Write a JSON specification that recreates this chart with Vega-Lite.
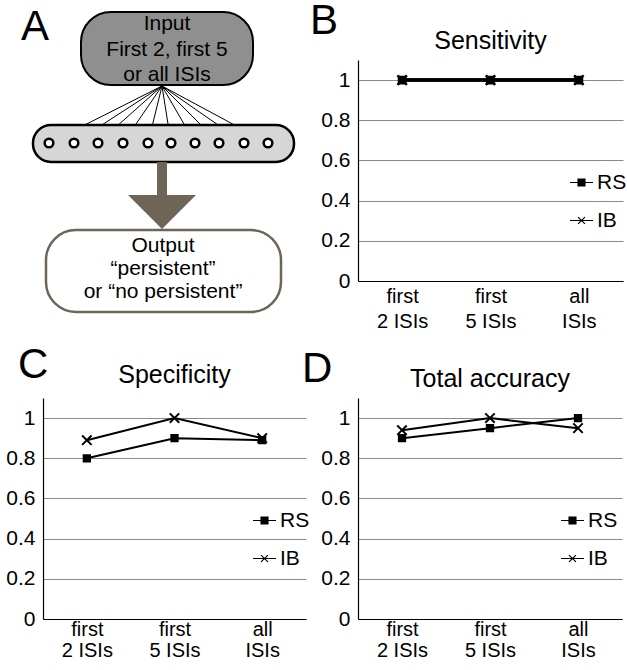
{
  "$schema": "https://vega.github.io/schema/vega-lite/v6.json",
  "background": "white",
  "padding": {"left": 5, "top": 0, "right": 0, "bottom": 0},
  "config": {
    "font": "Liberation Sans",
    "view": {"stroke": null},
    "title": {"font": "Liberation Sans", "fontWeight": "normal", "color": "black"},
    "axis": {"labelFont": "Liberation Sans", "labelColor": "black"},
    "legend": {"labelFont": "Liberation Sans", "labelColor": "black"}
  },
  "datasets": {
    "sens": [
      {"cond": "first 2 ISIs", "series": "RS", "value": 1},
      {"cond": "first 5 ISIs", "series": "RS", "value": 1},
      {"cond": "all ISIs", "series": "RS", "value": 1},
      {"cond": "first 2 ISIs", "series": "IB", "value": 1},
      {"cond": "first 5 ISIs", "series": "IB", "value": 1},
      {"cond": "all ISIs", "series": "IB", "value": 1}
    ],
    "spec": [
      {"cond": "first 2 ISIs", "series": "RS", "value": 0.8},
      {"cond": "first 5 ISIs", "series": "RS", "value": 0.9},
      {"cond": "all ISIs", "series": "RS", "value": 0.89},
      {"cond": "first 2 ISIs", "series": "IB", "value": 0.89},
      {"cond": "first 5 ISIs", "series": "IB", "value": 1},
      {"cond": "all ISIs", "series": "IB", "value": 0.9}
    ],
    "acc": [
      {"cond": "first 2 ISIs", "series": "RS", "value": 0.9},
      {"cond": "first 5 ISIs", "series": "RS", "value": 0.95},
      {"cond": "all ISIs", "series": "RS", "value": 1},
      {"cond": "first 2 ISIs", "series": "IB", "value": 0.94},
      {"cond": "first 5 ISIs", "series": "IB", "value": 1},
      {"cond": "all ISIs", "series": "IB", "value": 0.95}
    ]
  },
  "spacing": 13,
  "vconcat": [
    {
      "spacing": 4,
      "hconcat": [
        {
          "width": 263,
          "height": 221,
          "layer": [
            {
              "data": {"values": [{"x": 85, "x2": 257, "y": 15, "y2": 88}]},
              "mark": {"type": "rect", "fill": "#8f8f8f", "stroke": "black", "strokeWidth": 2, "cornerRadius": 30},
              "encoding": {
                "x": {"field": "x", "type": "quantitative", "scale": {"domain": [47, 310], "nice": false, "zero": false}, "axis": null},
                "x2": {"field": "x2"},
                "y": {"field": "y", "type": "quantitative", "scale": {"domain": [63, 284], "reverse": true, "nice": false, "zero": false}, "axis": null},
                "y2": {"field": "y2"}
              }
            },
            {
              "data": {"values": [
                {"x": 166, "y": 89, "x2": 53, "y2": 146},
                {"x": 166, "y": 89, "x2": 78, "y2": 146},
                {"x": 166, "y": 89, "x2": 102, "y2": 146},
                {"x": 166, "y": 89, "x2": 127, "y2": 146},
                {"x": 166, "y": 89, "x2": 152, "y2": 146},
                {"x": 166, "y": 89, "x2": 175, "y2": 146},
                {"x": 166, "y": 89, "x2": 199, "y2": 146},
                {"x": 166, "y": 89, "x2": 223, "y2": 146},
                {"x": 166, "y": 89, "x2": 248, "y2": 146},
                {"x": 166, "y": 89, "x2": 272, "y2": 146}
              ]},
              "mark": {"type": "rule", "color": "black", "strokeWidth": 1},
              "encoding": {
                "x": {"field": "x", "type": "quantitative"},
                "x2": {"field": "x2"},
                "y": {"field": "y", "type": "quantitative"},
                "y2": {"field": "y2"}
              }
            },
            {
              "data": {"values": [{"x": 37, "x2": 298, "y": 128, "y2": 165}]},
              "mark": {"type": "rect", "fill": "#d6d6d6", "stroke": "black", "strokeWidth": 2.5, "cornerRadius": 18},
              "encoding": {
                "x": {"field": "x", "type": "quantitative"},
                "x2": {"field": "x2"},
                "y": {"field": "y", "type": "quantitative"},
                "y2": {"field": "y2"}
              }
            },
            {
              "data": {"values": [
                {"x": 53, "y": 146}, {"x": 78, "y": 146}, {"x": 102, "y": 146}, {"x": 127, "y": 146}, {"x": 152, "y": 146},
                {"x": 175, "y": 146}, {"x": 199, "y": 146}, {"x": 223, "y": 146}, {"x": 248, "y": 146}, {"x": 272, "y": 146}
              ]},
              "mark": {"type": "point", "shape": "circle", "filled": true, "fill": "white", "stroke": "black", "strokeWidth": 2.5, "size": 75, "opacity": 1},
              "encoding": {
                "x": {"field": "x", "type": "quantitative"},
                "y": {"field": "y", "type": "quantitative"}
              }
            },
            {
              "data": {"values": [{"x": 161, "x2": 171, "y": 165, "y2": 200}]},
              "mark": {"type": "rect", "fill": "#6e6458"},
              "encoding": {
                "x": {"field": "x", "type": "quantitative"},
                "x2": {"field": "x2"},
                "y": {"field": "y", "type": "quantitative"},
                "y2": {"field": "y2"}
              }
            },
            {
              "data": {"values": [{"x": 166, "y": 215}]},
              "mark": {"type": "point", "shape": "M-1,-0.5L1,-0.5L0,0.5Z", "filled": true, "fill": "#6e6458", "strokeWidth": 0, "size": 4624, "opacity": 1},
              "encoding": {
                "x": {"field": "x", "type": "quantitative"},
                "y": {"field": "y", "type": "quantitative"}
              }
            },
            {
              "data": {"values": [{"x": 50, "x2": 285, "y": 233, "y2": 315}]},
              "mark": {"type": "rect", "fill": "white", "stroke": "#6e6458", "strokeWidth": 2.5, "cornerRadius": 30},
              "encoding": {
                "x": {"field": "x", "type": "quantitative"},
                "x2": {"field": "x2"},
                "y": {"field": "y", "type": "quantitative"},
                "y2": {"field": "y2"}
              }
            },
            {
              "data": {"values": [
                {"t": "Input", "x": 171, "y": 27},
                {"t": "First 2, first 5", "x": 171, "y": 53},
                {"t": "or all ISIs", "x": 171, "y": 78},
                {"t": "Output", "x": 167, "y": 249},
                {"t": "“persistent”", "x": 167, "y": 272},
                {"t": "or “no persistent”", "x": 167, "y": 295}
              ]},
              "mark": {"type": "text", "fontSize": 21, "color": "black", "baseline": "middle", "align": "center"},
              "encoding": {
                "x": {"field": "x", "type": "quantitative"},
                "y": {"field": "y", "type": "quantitative"},
                "text": {"field": "t"}
              }
            },
            {
              "data": {"values": [{"t": "A", "x": 39, "y": 30}]},
              "mark": {"type": "text", "fontSize": 42, "color": "black", "baseline": "middle", "align": "center"},
              "encoding": {
                "x": {"field": "x", "type": "quantitative"},
                "y": {"field": "y", "type": "quantitative"},
                "text": {"field": "t"}
              }
            }
          ]
        },
        {
          "title": {"text": "B", "anchor": "start", "frame": "group", "fontSize": 42, "offset": -14, "dx": -48},
          "vconcat": [
            {
              "width": 265,
              "height": 221,
              "title": {"text": "Sensitivity", "fontSize": 25, "offset": 6},
              "data": {"name": "sens"},
              "encoding": {
                "x": {"field": "cond", "type": "ordinal", "scale": {"type": "point", "domain": ["first 2 ISIs", "first 5 ISIs", "all ISIs"], "padding": 0.5},
                  "axis": {"title": null, "ticks": false, "domainColor": "black", "domainWidth": 1.2, "labelFontSize": 20, "labelPadding": 5, "labelLineHeight": 25, "labelAngle": 0, "grid": false,
                    "labelExpr": "datum.label == 'all ISIs' ? ['all', 'ISIs'] : ['first', replace(datum.label, 'first ', '')]"}},
                "y": {"field": "value", "type": "quantitative", "scale": {"domain": [0, 1.1], "nice": false},
                  "axis": {"title": null, "values": [0, 0.2, 0.4, 0.6, 0.8, 1], "format": "~g", "grid": true, "gridColor": "#8a8a8a", "gridWidth": 1.2, "ticks": false, "domainColor": "black", "domainWidth": 1.2, "labelFontSize": 21, "labelPadding": 8}}
              },
              "layer": [
                {"mark": {"type": "line", "color": "black", "strokeWidth": 3.5}, "encoding": {"detail": {"field": "series"}}},
                {"mark": {"type": "point", "filled": true, "fill": "black", "stroke": "black", "strokeWidth": 2.5, "size": 110, "opacity": 1},
                  "encoding": {"shape": {"field": "series", "scale": {"domain": ["RS", "IB"], "range": ["M-0.6,-0.6H0.6V0.6H-0.6Z", "M-0.9,-0.9L0.9,0.9M-0.9,0.9L0.9,-0.9"]}, "legend": null}}},
                {"mark": {"type": "point", "filled": false, "color": "black", "strokeWidth": 1.2, "opacity": 0},
                  "encoding": {"shape": {"field": "series", "scale": {"domain": ["RS", "IB"], "range": ["M-1,0H1M-0.3,-0.3H0.3V0.3H-0.3ZM-0.3,-0.2H0.3M-0.3,-0.1H0.3M-0.3,0.1H0.3M-0.3,0.2H0.3", "M-1,0H1M-0.3,-0.3L0.3,0.3M-0.3,0.3L0.3,-0.3"]},
                    "legend": {"orient": "none", "legendX": 211, "legendY": 110, "title": null, "labelFontSize": 21, "symbolSize": 529, "symbolStrokeColor": "black", "symbolStrokeWidth": 1.2, "symbolOpacity": 1, "padding": 0, "rowPadding": 15, "labelOffset": 3}}}}
              ],
              "resolve": {"scale": {"shape": "independent"}}
            }
          ]
        }
      ]
    },
    {
      "spacing": -8,
      "hconcat": [
        {
          "title": {"text": "C", "anchor": "start", "frame": "group", "fontSize": 42, "offset": -24, "dx": -25},
          "vconcat": [
            {
              "width": 263,
              "height": 221,
              "title": {"text": "Specificity", "fontSize": 25, "offset": 10},
              "data": {"name": "spec"},
              "encoding": {
                "x": {"field": "cond", "type": "ordinal", "scale": {"type": "point", "domain": ["first 2 ISIs", "first 5 ISIs", "all ISIs"], "padding": 0.5},
                  "axis": {"title": null, "ticks": false, "domainColor": "black", "domainWidth": 1.2, "labelFontSize": 20, "labelPadding": 0, "labelLineHeight": 21, "labelAngle": 0, "grid": false,
                    "labelExpr": "datum.label == 'all ISIs' ? ['all', 'ISIs'] : ['first', replace(datum.label, 'first ', '')]"}},
                "y": {"field": "value", "type": "quantitative", "scale": {"domain": [0, 1.1], "nice": false},
                  "axis": {"title": null, "values": [0, 0.2, 0.4, 0.6, 0.8, 1], "format": "~g", "grid": true, "gridColor": "#8a8a8a", "gridWidth": 1.2, "ticks": false, "domainColor": "black", "domainWidth": 1.2, "labelFontSize": 21, "labelPadding": 8}}
              },
              "layer": [
                {"mark": {"type": "line", "color": "black", "strokeWidth": 2}, "encoding": {"detail": {"field": "series"}}},
                {"mark": {"type": "point", "filled": true, "fill": "black", "stroke": "black", "strokeWidth": 2, "size": 110, "opacity": 1},
                  "encoding": {"shape": {"field": "series", "scale": {"domain": ["RS", "IB"], "range": ["M-0.6,-0.6H0.6V0.6H-0.6Z", "M-0.9,-0.9L0.9,0.9M-0.9,0.9L0.9,-0.9"]}, "legend": null}}},
                {"mark": {"type": "point", "filled": false, "color": "black", "strokeWidth": 1.2, "opacity": 0},
                  "encoding": {"shape": {"field": "series", "scale": {"domain": ["RS", "IB"], "range": ["M-1,0H1M-0.3,-0.3H0.3V0.3H-0.3ZM-0.3,-0.2H0.3M-0.3,-0.1H0.3M-0.3,0.1H0.3M-0.3,0.2H0.3", "M-1,0H1M-0.3,-0.3L0.3,0.3M-0.3,0.3L0.3,-0.3"]},
                    "legend": {"orient": "none", "legendX": 209, "legendY": 110, "title": null, "labelFontSize": 21, "symbolSize": 529, "symbolStrokeColor": "black", "symbolStrokeWidth": 1.2, "symbolOpacity": 1, "padding": 0, "rowPadding": 15, "labelOffset": 3}}}}
              ],
              "resolve": {"scale": {"shape": "independent"}}
            }
          ]
        },
        {
          "title": {"text": "D", "anchor": "start", "frame": "group", "fontSize": 42, "offset": -24, "dx": -56},
          "vconcat": [
            {
              "width": 264,
              "height": 221,
              "title": {"text": "Total accuracy", "fontSize": 25, "offset": 6},
              "data": {"name": "acc"},
              "encoding": {
                "x": {"field": "cond", "type": "ordinal", "scale": {"type": "point", "domain": ["first 2 ISIs", "first 5 ISIs", "all ISIs"], "padding": 0.5},
                  "axis": {"title": null, "ticks": false, "domainColor": "black", "domainWidth": 1.2, "labelFontSize": 20, "labelPadding": 0, "labelLineHeight": 21, "labelAngle": 0, "grid": false,
                    "labelExpr": "datum.label == 'all ISIs' ? ['all', 'ISIs'] : ['first', replace(datum.label, 'first ', '')]"}},
                "y": {"field": "value", "type": "quantitative", "scale": {"domain": [0, 1.1], "nice": false},
                  "axis": {"title": null, "values": [0, 0.2, 0.4, 0.6, 0.8, 1], "format": "~g", "grid": true, "gridColor": "#8a8a8a", "gridWidth": 1.2, "ticks": false, "domainColor": "black", "domainWidth": 1.2, "labelFontSize": 21, "labelPadding": 8}}
              },
              "layer": [
                {"mark": {"type": "line", "color": "black", "strokeWidth": 2}, "encoding": {"detail": {"field": "series"}}},
                {"mark": {"type": "point", "filled": true, "fill": "black", "stroke": "black", "strokeWidth": 2, "size": 110, "opacity": 1},
                  "encoding": {"shape": {"field": "series", "scale": {"domain": ["RS", "IB"], "range": ["M-0.6,-0.6H0.6V0.6H-0.6Z", "M-0.9,-0.9L0.9,0.9M-0.9,0.9L0.9,-0.9"]}, "legend": null}}},
                {"mark": {"type": "point", "filled": false, "color": "black", "strokeWidth": 1.2, "opacity": 0},
                  "encoding": {"shape": {"field": "series", "scale": {"domain": ["RS", "IB"], "range": ["M-1,0H1M-0.3,-0.3H0.3V0.3H-0.3ZM-0.3,-0.2H0.3M-0.3,-0.1H0.3M-0.3,0.1H0.3M-0.3,0.2H0.3", "M-1,0H1M-0.3,-0.3L0.3,0.3M-0.3,0.3L0.3,-0.3"]},
                    "legend": {"orient": "none", "legendX": 202, "legendY": 110, "title": null, "labelFontSize": 21, "symbolSize": 529, "symbolStrokeColor": "black", "symbolStrokeWidth": 1.2, "symbolOpacity": 1, "padding": 0, "rowPadding": 15, "labelOffset": 3}}}}
              ],
              "resolve": {"scale": {"shape": "independent"}}
            }
          ]
        }
      ]
    }
  ]
}
